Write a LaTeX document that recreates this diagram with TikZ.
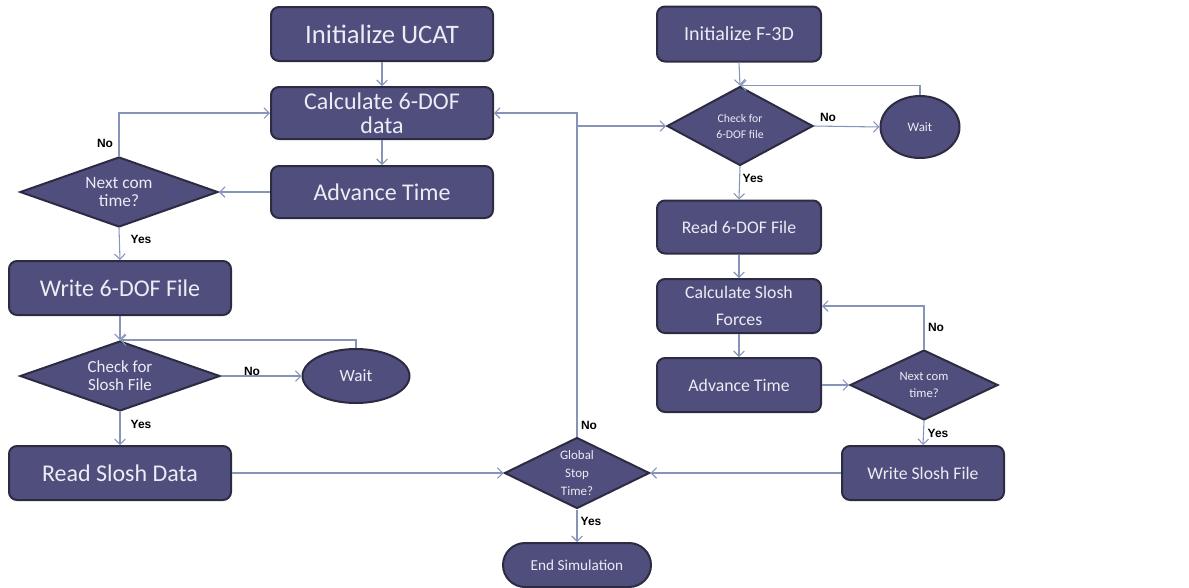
\documentclass[tikz,border=0pt]{standalone}
\usepackage{fontspec}
\setmainfont{Carlito}
\newfontfamily\lblfont{Liberation Sans}
\usetikzlibrary{shapes.geometric,arrows.meta}
\definecolor{boxfill}{RGB}{80,78,125}
\definecolor{boxline}{RGB}{44,43,66}
\definecolor{conn}{RGB}{135,148,185}
\definecolor{boxtext}{RGB}{236,236,244}
\tikzset{
  box/.style={draw=boxline,line width=1.5pt,fill=boxfill,text=boxtext,rounded corners=6pt,inner sep=0pt,align=center},
  dia/.style={draw=boxline,line width=1.5pt,fill=boxfill,text=boxtext,diamond,inner sep=0pt,align=center},
  oval/.style={draw=boxline,line width=1.5pt,fill=boxfill,text=boxtext,ellipse,inner sep=0pt,align=center},
  conn/.style={draw=conn,line width=0.8pt,-{Straight Barb[length=4pt,width=8pt]}},
  plain/.style={draw=conn,line width=0.8pt},
  lbl/.style={font=\lblfont\bfseries\fontsize{9}{10}\selectfont,text=black,inner sep=0pt}
}
\begin{document}
\begin{tikzpicture}[x=0.75pt,y=-0.75pt]
\useasboundingbox (0,0) rectangle (1189,587);
% left column
\node[box,minimum width=166.5pt,minimum height=40.5pt,font=\fontsize{20}{24}\selectfont] (initU) at (382,34) {Initialize UCAT};
\node[box,minimum width=166.5pt,minimum height=39pt,font=\fontsize{18}{18}\selectfont] (calc6) at (382,113) {Calculate 6-DOF\\data};
\node[box,minimum width=166.5pt,minimum height=39pt,font=\fontsize{18}{22}\selectfont] (adv1) at (382,192) {Advance Time};
\node[dia,shape aspect=2.83,minimum width=148.5pt,minimum height=52.5pt,font=\fontsize{13}{13}\selectfont] (next1) at (119,192) {Next com\\time?};
\node[box,minimum width=166.5pt,minimum height=40.5pt,font=\fontsize{18}{22}\selectfont] (write6) at (120,288) {Write 6-DOF File};
\node[dia,shape aspect=2.86,minimum width=150pt,minimum height=52.5pt,font=\fontsize{12.7}{13.7}\selectfont] (chkS) at (120,376) {Check for\\Slosh File};
\node[oval,minimum width=80.25pt,minimum height=40.5pt,font=\fontsize{12.9}{15}\selectfont] (wait1) at (356,376) {Wait};
\node[box,minimum width=166.5pt,minimum height=40.5pt,font=\fontsize{18}{22}\selectfont] (readS) at (120,473) {Read Slosh Data};
% middle
\node[dia,shape aspect=2.04,minimum width=108.75pt,minimum height=53.25pt,font=\fontsize{9.7}{13.5}\selectfont] (gstop) at (577,473) {Global\\Stop\\Time?};
\node[box,rounded corners=16.5pt,minimum width=111pt,minimum height=33pt,font=\fontsize{11.4}{14}\selectfont] (endS) at (577,565) {End Simulation};
% right column
\node[box,minimum width=123pt,minimum height=41.25pt,font=\fontsize{15}{18}\selectfont] (initF) at (739,34) {Initialize F-3D};
\node[dia,shape aspect=1.85,minimum width=109.5pt,minimum height=59.25pt,font=\fontsize{8.8}{12}\selectfont] (chk6) at (740,126) {Check for\\6-DOF file};
\node[oval,minimum width=59.25pt,minimum height=46.5pt,font=\fontsize{9.7}{12}\selectfont] (wait2) at (920,127) {Wait};
\node[box,minimum width=123pt,minimum height=39.75pt,font=\fontsize{13.3}{16}\selectfont] (read6) at (739,227) {Read 6-DOF File};
\node[box,minimum width=123pt,minimum height=40.5pt,font=\fontsize{13.3}{20}\selectfont] (calcS) at (739,306) {Calculate Slosh\\Forces};
\node[box,minimum width=123pt,minimum height=40.5pt,font=\fontsize{13.3}{16}\selectfont] (adv2) at (739,385) {Advance Time};
\node[dia,shape aspect=2.11,minimum width=111pt,minimum height=52.5pt,font=\fontsize{9.5}{13.2}\selectfont] (next2) at (924,385) {Next com\\time?};
\node[box,minimum width=121.5pt,minimum height=40.5pt,font=\fontsize{13.3}{16}\selectfont] (writeS) at (923,473) {Write Slosh File};
% connectors left
\draw[conn] (initU) -- (calc6);
\draw[conn] (calc6) -- (adv1);
\draw[conn] (adv1) -- (next1.east);
\draw[conn] (next1.north) |- (calc6.west);
\draw[conn] (next1.south) -- (write6.north);
\draw[conn] (write6.south) -- (chkS.north);
\draw[conn] (chkS.east) -- (wait1.west);
\draw[conn] (wait1.north) |- (chkS.north);
\draw[conn] (chkS.south) -- (readS.north);
\draw[conn] (readS.east) -- (gstop.west);
\draw[conn] (writeS.west) -- (gstop.east);
\draw[conn] (gstop.north) |- (calc6.east);
\coordinate (br) at (gstop.north |- chk6.west);
\draw[conn] (br) -- (chk6.west);
\draw[conn] (gstop.south) -- (endS.north);
% connectors right
\draw[conn] (initF.south) -- (chk6.north);
\draw[conn] (chk6.east) -- (wait2.west);
\draw[conn] (wait2.north) |- (chk6.north);
\draw[conn] (chk6.south) -- (read6.north);
\draw[conn] (read6) -- (calcS);
\draw[conn] (calcS) -- (adv2);
\draw[conn] (adv2.east) -- (next2.west);
\draw[conn] (next2.north) |- (calcS.east);
\draw[conn] (next2.south) -- (writeS.north);
% labels
\node[lbl] (l1) at (105,143) {No};
\node[lbl] (l2) at (141,239) {Yes};
\node[lbl] (l3) at (252,371) {No};
\node[lbl] (l4) at (141,424) {Yes};
\node[lbl] (l5) at (589,425) {No};
\node[lbl] (l6) at (591,521) {Yes};
\node[lbl] (l7) at (828,117) {No};
\node[lbl] (l8) at (753,178) {Yes};
\node[lbl] (l9) at (936,327) {No};
\node[lbl] (l10) at (938,433) {Yes};
\end{tikzpicture}
\end{document}
